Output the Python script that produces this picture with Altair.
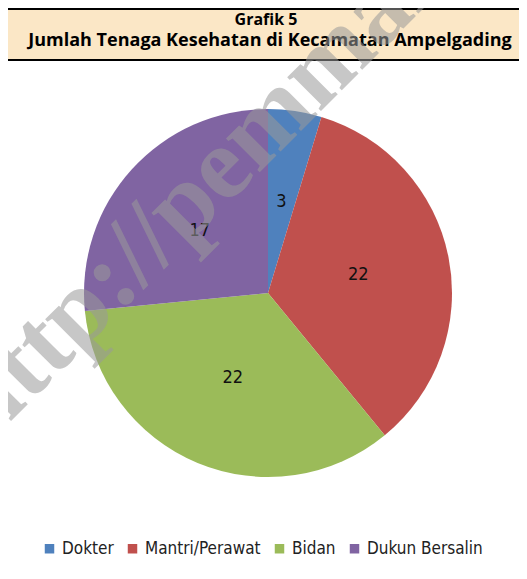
import altair as alt
import pandas as pd

# ---- data ----
categories = ["Dokter", "Mantri/Perawat", "Bidan", "Dukun Bersalin"]
values = [3, 22, 22, 17]
slice_order = [0, 1, 2, 3]
colors = ["#4f81bd", "#c0504d", "#9bbb59", "#8064a2"]

title_line1 = "Grafik 5"
title_line2 = "Jumlah Tenaga Kesehatan di Kecamatan Ampelgading"
watermark = "http://pemmalang"

df = pd.DataFrame({"kategori": categories, "jumlah": values, "urut": slice_order})
one = pd.DataFrame({"k": [0]})

W, H = 511, 563
CX, CY = 260, 285
R = 184
COND = "DejaVu Sans Condensed, DejaVu Sans, sans-serif"

title_box = alt.Chart(one).mark_rect(
    fill="#fbe7c6", stroke="#000000", strokeWidth=2
).encode(
    x=alt.value(-6), x2=alt.value(W + 6), y=alt.value(1), y2=alt.value(52)
)

t1 = alt.Chart(one).mark_text(
    text=title_line1, font="Open Sans", fontWeight="bold", fontSize=16, color="#000000"
).encode(x=alt.value(258), y=alt.value(12))

t2 = alt.Chart(one).mark_text(
    text=title_line2, font="Open Sans", fontWeight="bold", fontSize=18, color="#000000"
).encode(x=alt.value(262), y=alt.value(33))

color_enc = alt.Color(
    "kategori:N",
    scale=alt.Scale(domain=categories, range=colors),
    legend=alt.Legend(
        orient="none", legendX=33, legendY=532, direction="horizontal",
        title=None, symbolType="square", symbolSize=90, symbolStrokeWidth=0,
        labelFont=COND, labelFontSize=17, labelColor="#222222",
        labelOffset=4, columnPadding=10, padding=0,
    ),
)

pie = alt.Chart(df).mark_arc(outerRadius=R).encode(
    theta=alt.Theta("jumlah:Q", stack=True),
    color=color_enc,
    order=alt.Order("urut:Q"),
    x=alt.value(CX), y=alt.value(CY),
)

labels = alt.Chart(df).mark_text(
    radius=92, font=COND, fontSize=18, color="#111111"
).encode(
    theta=alt.Theta("jumlah:Q", stack=True),
    order=alt.Order("urut:Q"),
    text="jumlah:Q",
    x=alt.value(CX), y=alt.value(CY),
)

wm = alt.Chart(one).mark_text(
    text=watermark, font="Liberation Serif", fontWeight="bold", fontSize=104,
    color="#9a9a9a", opacity=0.55, angle=315, align="left", baseline="alphabetic",
).encode(x=alt.value(-20), y=alt.value(436))

chart = alt.layer(title_box, t1, t2, pie, labels, wm).properties(
    width=W, height=H, autosize="none", padding=0
).configure_view(stroke=None)

chart.save("out.html", embed_options={"renderer": "svg", "actions": False})
